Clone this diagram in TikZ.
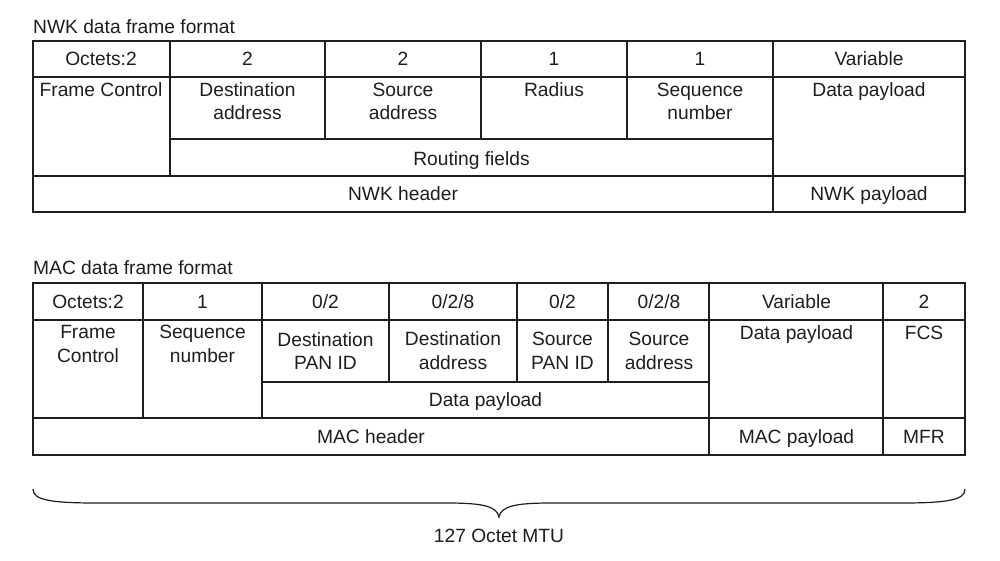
\documentclass[tikz,border=0pt]{standalone}
\usepackage{fontspec}
\setmainfont{Liberation Sans}
\definecolor{ink}{HTML}{1E1E1E}
\begin{document}
\begin{tikzpicture}[x=1pt,y=-1pt,
  txt/.style={font=\fontsize{19.2}{23.5}\selectfont, align=center, inner sep=0pt, text=ink},
  one/.style={txt, anchor=base},
  ttl/.style={txt, anchor=base west},
  outer/.style={draw=ink, line width=1.9pt},
  rule/.style={draw=ink, line width=1.1pt},
  bracepath/.style={draw=ink, line width=1.2pt}]
\useasboundingbox (0,0) rectangle (1000,560);

% ---------------- NWK frame ----------------
\node[ttl] (nwktitle) at (33,33) {NWK data frame format};
\draw[rule] (33,77) -- (965,77);
\draw[rule] (170,139) -- (773,139);
\draw[rule] (33,176) -- (965,176);
\draw[rule] (170,41) -- (170,176);
\foreach \x in {325,481,627} \draw[rule] (\x,41) -- (\x,139);
\draw[rule] (773,41) -- (773,212);
\draw[outer] (33,41) rectangle (965,212);

\node[one] (n1) at (101,65) {Octets:2};
\node[one] (n2) at (247.5,65) {2};
\node[one] (n3) at (403,65) {2};
\node[one] (n4) at (554,65) {1};
\node[one] (n5) at (700,65) {1};
\node[one] (n6) at (869,65) {Variable};

\node[one] (nfc) at (101,96.5) {Frame Control};
\node[txt] (nda) at (247.5,101.3) {Destination\\address};
\node[txt] (nsa) at (403,101.3) {Source\\address};
\node[one] (nrad) at (554,96.5) {Radius};
\node[txt] (nseq) at (700,101.3) {Sequence\\number};
\node[one] (ndp) at (869,96.5) {Data payload};
\node[one] (nrf) at (471.5,165) {Routing fields};
\node[one] (nhdr) at (403,200.5) {NWK header};
\node[one] (npl) at (869,200.5) {NWK payload};

% ---------------- MAC frame ----------------
\node[ttl] (mactitle) at (33,274) {MAC data frame format};
\draw[rule] (33,320) -- (965,320);
\draw[rule] (262,382) -- (709,382);
\draw[rule] (33,418) -- (965,418);
\foreach \x in {143,262} \draw[rule] (\x,283) -- (\x,418);
\foreach \x in {389,517,608} \draw[rule] (\x,283) -- (\x,382);
\foreach \x in {709,883} \draw[rule] (\x,283) -- (\x,455);
\draw[outer, line width=1.5pt] (33,283) rectangle (965,455);

\node[one] (m1) at (88,308) {Octets:2};
\node[one] (m2) at (202.5,308) {1};
\node[one] (m3) at (325.5,308) {0/2};
\node[one] (m4) at (453,308) {0/2/8};
\node[one] (m5) at (562.5,308) {0/2};
\node[one] (m6) at (659,308) {0/2/8};
\node[one] (m7) at (796.5,308) {Variable};
\node[one] (m8) at (924,308) {2};

\node[txt] (mfc) at (88,343.8) {Frame\\Control};
\node[txt] (mseq) at (202.5,343.8) {Sequence\\number};
\node[txt] (mdpan) at (325.5,350.8) {Destination\\PAN ID};
\node[txt] (mda) at (453,350.8) {Destination\\address};
\node[txt] (mspan) at (562.5,350.8) {Source\\PAN ID};
\node[txt] (msa) at (659,350.8) {Source\\address};
\node[one] (mdp) at (796.5,339) {Data payload};
\node[one] (mfcs) at (924,339) {FCS};
\node[one] (mdp2) at (485.5,406.5) {Data payload};
\node[one] (mhdr) at (371,443) {MAC header};
\node[one] (mpl) at (796.5,443) {MAC payload};
\node[one] (mfr) at (924,443) {MFR};

% ---------------- brace under the MAC frame ----------------
\coordinate (bl) at (33,489);
\coordinate (br) at (965,489);
\coordinate (tip) at (499,517);
\draw[bracepath] (bl) .. controls (33,500) and (50,503) .. (97,503) -- (447,503)
  .. controls (482,503) and (497,506) .. (tip)
  .. controls (501,506) and (516,503) .. (551,503) -- (901,503)
  .. controls (948,503) and (965,500) .. (br);
\node[one] (mtu) at (499,542) {127 Octet MTU};
\end{tikzpicture}
\end{document}
